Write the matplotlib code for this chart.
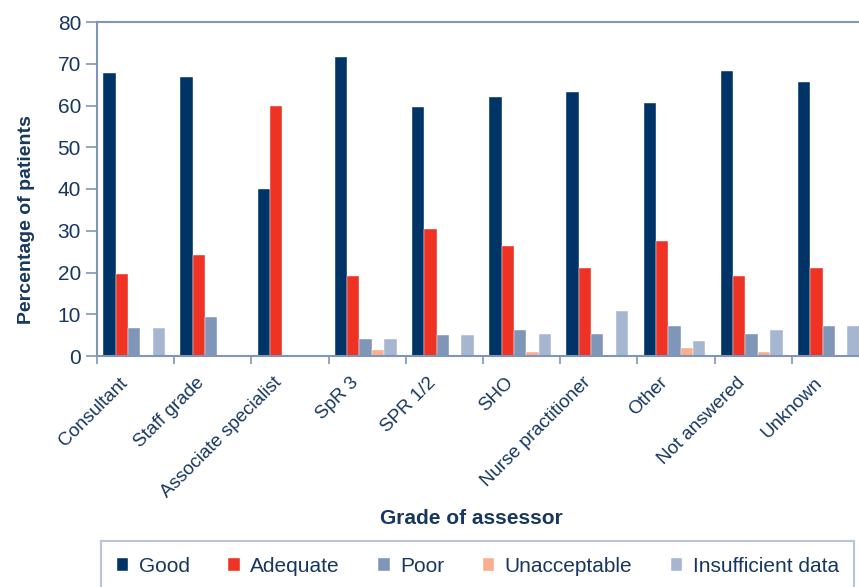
import numpy as np
import matplotlib.pyplot as plt
import matplotlib.transforms as mtransforms

plt.rcParams['font.family'] = ['Liberation Sans', 'DejaVu Sans']

categories = ["Consultant", "Staff grade", "Associate specialist", "SpR 3", "SPR 1/2",
              "SHO", "Nurse practitioner", "Other", "Not answered", "Unknown"]
series_names = ["Good", "Adequate", "Poor", "Unacceptable", "Insufficient data"]
good = [67.8, 66.8, 40.0, 71.6, 59.6, 62.0, 63.2, 60.6, 68.2, 65.6]
adequate = [19.6, 24.1, 60.0, 19.2, 30.4, 26.3, 21.0, 27.6, 19.2, 21.0]
poor = [6.7, 9.3, 0, 4.1, 5.0, 6.2, 5.3, 7.2, 5.3, 7.2]
unacceptable = [0, 0, 0, 1.4, 0, 1.0, 0, 1.8, 1.0, 0]
insufficient = [6.7, 0, 0, 4.1, 5.0, 5.3, 10.8, 3.7, 6.2, 7.2]
colors = ["#003366", "#EE3224", "#7F96B8", "#F9AE8E", "#A6B6D1"]

text_col = "#17375E"
spine_col = "#7F96B8"

fig = plt.figure(figsize=(8.59, 5.87), dpi=100)
ax = fig.add_axes([97/859, 231/587, 772/859, 334/587])

x = np.arange(len(categories))
w = 0.16
data = [good, adequate, poor, unacceptable, insufficient]
for i, (vals, name, c) in enumerate(zip(data, series_names, colors)):
    ax.bar(x + (i - 2) * w - 0.02, vals, width=w, color=c, label=name,
           edgecolor="white", linewidth=0.3)

ax.set_xlim(-0.5, len(categories) - 0.5)
ax.set_ylim(0, 80)
ax.set_yticks(range(0, 81, 10))
ax.set_xticks(x)
ax.set_xticks(np.arange(-0.5, len(categories), 1), minor=True)
ax.tick_params(axis="x", which="major", length=0, pad=8)
ax.tick_params(axis="x", which="minor", length=6, color=spine_col, width=1.2)
ax.tick_params(axis="y", labelsize=15, labelcolor=text_col, color=spine_col,
               length=8, width=1.2)
ax.set_xticklabels(categories, rotation=45, ha="right", rotation_mode="anchor",
                   fontsize=13.5, color=text_col)
# nudge the rotated labels left/down like the original (after tick_params)
shift = mtransforms.ScaledTranslation(-0.17, -0.07, fig.dpi_scale_trans)
for lab in ax.get_xticklabels():
    lab.set_transform(lab.get_transform() + shift)
for s in ax.spines.values():
    s.set_color(spine_col)
    s.set_linewidth(1.5)
ax.spines["right"].set_visible(False)

fig.text(27/859, 1 - 220/587, "Percentage of patients", fontsize=14, fontweight="bold",
         color=text_col, ha="center", va="center", rotation=90)
fig.text(471/859, 1 - 519/587, "Grade of assessor", fontsize=15, fontweight="bold",
         color=text_col, ha="center", va="center")

handles, labels = ax.get_legend_handles_labels()
leg = fig.legend(handles, labels, loc="upper left", ncol=5,
                 bbox_to_anchor=(101/859, 1 - 541/587),
                 fontsize=15, frameon=True, fancybox=False,
                 handlelength=0.55, handleheight=0.55, handletextpad=0.5,
                 columnspacing=1.85, borderpad=0.75, borderaxespad=0,
                 labelcolor=text_col)
leg.get_frame().set_edgecolor("#A6B6D1")
leg.get_frame().set_linewidth(1.5)

fig.savefig("out.png", dpi=100)
